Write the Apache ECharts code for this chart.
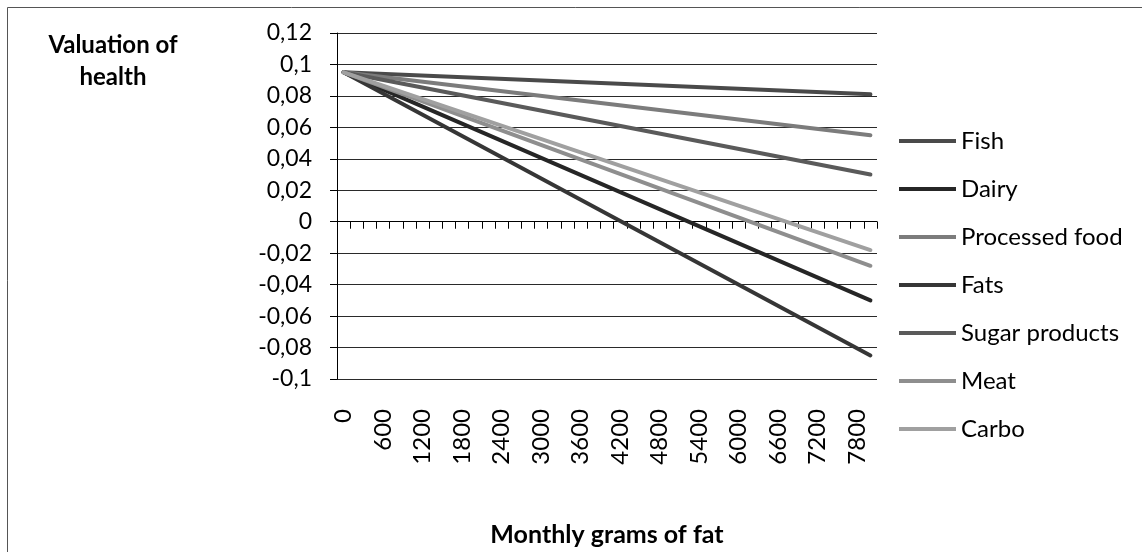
<!DOCTYPE html>
<html style="height: 100%">
<head>
    <meta charset="utf-8">
    <script src="https://cdn.jsdelivr.net/npm/echarts@6/dist/echarts.min.js"></script>
</head>
<body style="height: 100%; margin: 0; background: #fff">
<div id="container" style="width: 1142px; height: 552px"></div>

<script type="text/javascript">
    // monthly grams of fat, one category every 200 g
    var grams = ['0', '200', '400', '600', '800', '1000', '1200', '1400', '1600', '1800',
        '2000', '2200', '2400', '2600', '2800', '3000', '3200', '3400', '3600', '3800',
        '4000', '4200', '4400', '4600', '4800', '5000', '5200', '5400', '5600', '5800',
        '6000', '6200', '6400', '6600', '6800', '7000', '7200', '7400', '7600', '7800', '8000'];

    var foodNames = ['Fish', 'Dairy', 'Processed food', 'Fats', 'Sugar products', 'Meat', 'Carbo'];
    var foodColors = ['#4a4a4a', '#262626', '#7c7c7c', '#363636', '#5a5a5a', '#8e8e8e', '#a0a0a0'];

    // valuation at the first and the last category
    var fish = [['0', 0.095], ['8000', 0.081]];
    var dairy = [['0', 0.095], ['8000', -0.050]];
    var processedFood = [['0', 0.095], ['8000', 0.055]];
    var fats = [['0', 0.095], ['8000', -0.085]];
    var sugarProducts = [['0', 0.095], ['8000', 0.030]];
    var meat = [['0', 0.095], ['8000', -0.028]];
    var carbo = [['0', 0.095], ['8000', -0.018]];
    var foodValues = [fish, dairy, processedFood, fats, sugarProducts, meat, carbo];

    var yTicks = {min: -0.1, max: 0.12, interval: 0.02};

    var font = 'Lato, "Open Sans", sans-serif';
    var myChart = echarts.init(document.getElementById('container'));

    var series = foodNames.map(function (name, i) {
        return {
            name: name,
            type: 'line',
            xAxisIndex: 0,
            data: foodValues[i],
            symbol: 'none',
            connectNulls: true,
            color: foodColors[i],
            lineStyle: {width: 4, cap: 'round', color: foodColors[i]}
        };
    });

    myChart.setOption({
        animation: false,
        backgroundColor: '#fff',
        title: {
            text: 'Valuation of\nhealth',
            left: 108,
            top: 24,
            textAlign: 'center',
            textStyle: {fontFamily: font, fontSize: 24, fontWeight: 'bold', lineHeight: 32, color: '#000'}
        },
        graphic: [{
            type: 'rect',
            left: 5, top: 5,
            shape: {width: 1160, height: 570},
            style: {fill: 'none', stroke: '#555', lineWidth: 1}
        }],
        legend: {
            orient: 'vertical',
            left: 894,
            top: 122,
            itemWidth: 57,
            itemHeight: 4,
            itemGap: 20,
            icon: 'rect',
            data: foodNames,
            textStyle: {fontFamily: font, fontSize: 24, lineHeight: 28, color: '#000'}
        },
        grid: {left: 337, right: 265, top: 33, bottom: 155, containLabel: false},
        xAxis: [{
            type: 'category',
            data: grams,
            boundaryGap: true,
            axisLine: {onZero: true, lineStyle: {color: '#000', width: 1}},
            axisTick: {show: true, interval: 0, length: 7, lineStyle: {color: '#000'}},
            axisLabel: {show: false}
        }, {
            type: 'category',
            data: grams,
            position: 'bottom',
            boundaryGap: true,
            axisLine: {show: false, onZero: false},
            axisTick: {show: false},
            axisLabel: {
                interval: 2,
                rotate: 90,
                margin: 30,
                hideOverlap: false,
                fontFamily: font,
                fontSize: 24,
                color: '#000'
            },
            name: 'Monthly grams of fat',
            nameLocation: 'middle',
            nameGap: 143,
            nameTextStyle: {fontFamily: font, fontSize: 25, fontWeight: 'bold', color: '#000'}
        }],
        yAxis: {
            type: 'value',
            min: yTicks.min,
            max: yTicks.max,
            interval: yTicks.interval,
            axisLine: {show: true, lineStyle: {color: '#000', width: 1}},
            axisTick: {show: true, length: 7, lineStyle: {color: '#000'}},
            splitLine: {show: true, lineStyle: {color: '#2a2a2a', width: 1}},
            axisLabel: {
                margin: 25,
                fontFamily: font,
                fontSize: 23,
                color: '#000',
                formatter: function (v) {
                    return String(+v.toFixed(2)).replace('.', ',');
                }
            }
        },
        series: series
    });
</script>
</body>
</html>
